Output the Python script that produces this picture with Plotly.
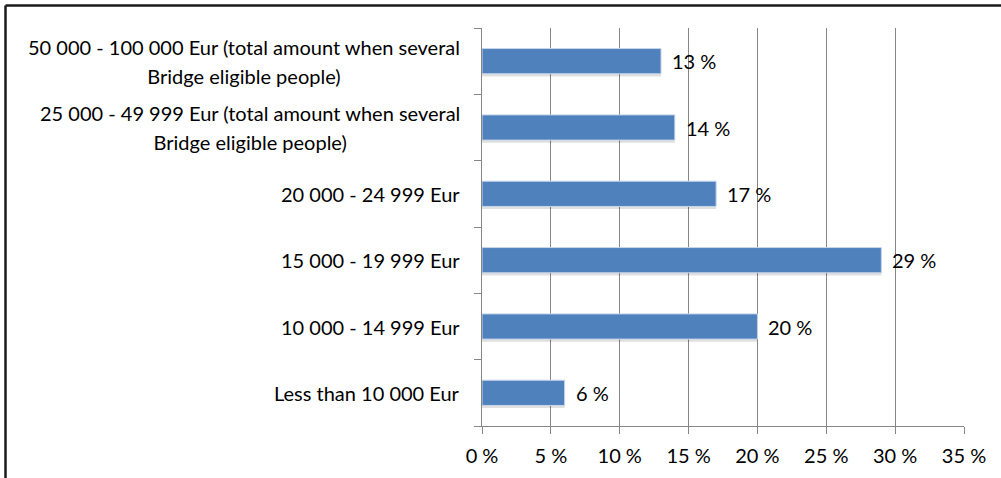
import plotly.graph_objects as go

categories = [
    "Less than 10 000 Eur",
    "10 000 - 14 999 Eur",
    "15 000 - 19 999 Eur",
    "20 000 - 24 999 Eur",
    "25 000 - 49 999 Eur (total amount when several<br>Bridge eligible people)",
    "50 000 - 100 000 Eur (total amount when several<br>Bridge eligible people)",
]
values = [6, 20, 29, 17, 14, 13]
value_labels = ["6 %", "20 %", "29 %", "17 %", "14 %", "13 %"]
x_ticks = [0, 5, 10, 15, 20, 25, 30, 35]
x_tick_labels = ["0 %", "5 %", "10 %", "15 %", "20 %", "25 %", "30 %", "35 %"]

W, H = 1001, 478
ML, MR, MT, MB = 482, 37, 28, 52
FONT = "Lato"
FS = 20
GRID = "#868686"
pos = list(range(len(categories)))

fig = go.Figure()
# soft shadow
fig.add_trace(go.Bar(
    x=values, y=pos, orientation="h",
    width=0.38, offset=-0.23,
    marker=dict(color="rgba(0,0,0,0.12)", line=dict(width=0)),
    hoverinfo="skip", showlegend=False,
))
fig.add_trace(go.Bar(
    x=values, y=pos, orientation="h",
    width=0.38, offset=-0.19,
    marker=dict(color="#4F81BD", line=dict(color="#C6D5EA", width=1)),
    showlegend=False,
))

annotations = []
for p, v, t in zip(pos, values, value_labels):
    annotations.append(dict(
        x=v, y=p, xref="x", yref="y", text=t, showarrow=False,
        xanchor="left", yanchor="middle", xshift=9,
        font=dict(family=FONT, size=FS, color="black"),
    ))
for p, c in zip(pos, categories):
    annotations.append(dict(
        x=0, y=p, xref="paper", yref="y",
        text=f"<span style='font-size:{FS}px'>{c}</span>",
        showarrow=False, xanchor="right", yanchor="middle", align="center",
        xshift=-20,
        font=dict(family=FONT, size=22, color="black"),
    ))

pw = W - ML - MR
ph = H - MT - MB
bx0 = (5.5 - ML) / pw
by1 = (H - MB - 5.5) / ph
border = dict(color="#1a1a1a", width=2.5)
shapes = [
    dict(type="line", xref="paper", yref="paper", x0=bx0, x1=(W - ML) / pw,
         y0=by1, y1=by1, line=border, layer="above"),
    dict(type="line", xref="paper", yref="paper", x0=bx0, x1=bx0,
         y0=by1, y1=-MB / ph, line=border, layer="above"),
]

fig.update_layout(
    width=W, height=H,
    margin=dict(l=ML, r=MR, t=MT, b=MB, pad=0),
    paper_bgcolor="white", plot_bgcolor="white",
    barmode="overlay",
    font=dict(family=FONT, size=FS, color="black"),
    annotations=annotations,
    shapes=shapes,
    xaxis=dict(
        range=[0, 35], tickvals=x_ticks, ticktext=x_tick_labels,
        showgrid=True, gridcolor=GRID, gridwidth=1,
        showline=True, linecolor=GRID, linewidth=1,
        ticks="outside", ticklen=7, tickcolor=GRID,
        ticklabelstandoff=5,
        zeroline=False, fixedrange=True,
        tickfont=dict(family=FONT, size=FS, color="black"),
    ),
    yaxis=dict(
        range=[-0.5, 5.5], tickvals=[p - 0.5 for p in pos] + [5.5], ticktext=[""] * 7,
        showgrid=False, showline=True, linecolor=GRID, linewidth=1,
        ticks="outside", ticklen=7, tickcolor=GRID,
        zeroline=False, fixedrange=True,
    ),
)

fig.write_html("out.html")
